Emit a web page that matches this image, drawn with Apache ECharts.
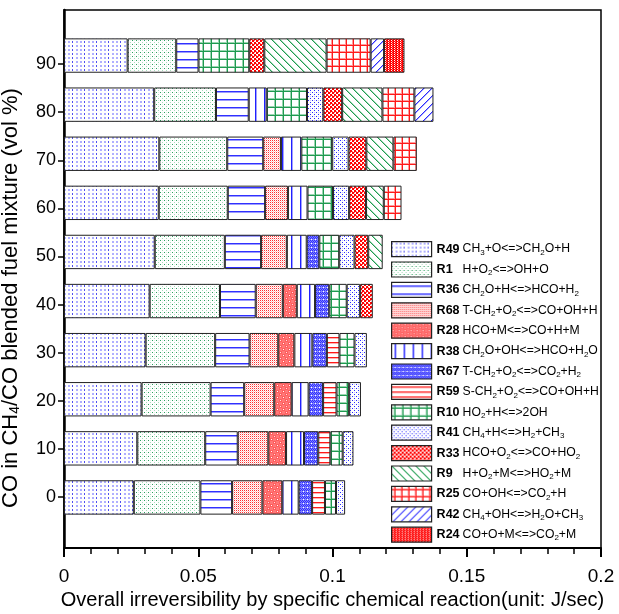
<!DOCTYPE html>
<html>
<head>
<meta charset="utf-8">
<script src="https://cdn.jsdelivr.net/npm/echarts@6/dist/echarts.min.js"></script>
<style>
  html, body { margin: 0; padding: 0; background: #fff; }
  #chart { width: 619px; height: 614px; }
</style>
</head>
<body>
<div id="chart"></div>
<script>
// CO share in the CH4/CO blend (vol %), bottom to top
const categories = ['0', '10', '20', '30', '40', '50', '60', '70', '80', '90']

// irreversibility of each reaction (J/sec), one value per category
const R49 = [0.0260, 0.0273, 0.0289, 0.0304, 0.0319, 0.0338, 0.0353, 0.0355, 0.0336, 0.0237]
const R1 = [0.0248, 0.0253, 0.0257, 0.0259, 0.0262, 0.0261, 0.0257, 0.0253, 0.0230, 0.0181]
const R36 = [0.0118, 0.0121, 0.0125, 0.0128, 0.0133, 0.0135, 0.0139, 0.0134, 0.0122, 0.0083]
const R68 = [0.0113, 0.0114, 0.0112, 0.0107, 0.0101, 0.0096, 0.0085, 0.0066, null, null]
const R28 = [0.0074, 0.0066, 0.0065, 0.0060, 0.0052, null, null, null, null, null]
const R38 = [0.0061, 0.0067, 0.0063, 0.0067, 0.0068, 0.0074, 0.0073, 0.0076, 0.0067, null]
const R67 = [0.0050, 0.0053, 0.0054, 0.0054, 0.0053, 0.0047, null, null, null, null]
const R59 = [0.0048, 0.0045, 0.0050, 0.0047, null, null, null, null, null, null]
const R10 = [0.0041, 0.0046, 0.0047, 0.0056, 0.0065, 0.0074, 0.0095, 0.0115, 0.0150, 0.0189]
const R41 = [0.0034, 0.0040, 0.0044, 0.0046, 0.0050, 0.0057, 0.0060, 0.0061, 0.0061, null]
const R33 = [null, null, null, null, 0.0047, 0.0051, 0.0063, 0.0066, 0.0070, 0.0056]
const R9 = [null, null, null, null, null, 0.0054, 0.0066, 0.0101, 0.0150, 0.0232]
const R25 = [null, null, null, null, null, null, 0.0066, 0.0087, 0.0119, 0.0164]
const R42 = [null, null, null, null, null, null, null, null, 0.0071, 0.0050]
const R24 = [null, null, null, null, null, null, null, null, null, 0.0076]

const xTicks = [0, 0.05, 0.1, 0.15, 0.2]

// legend labels (formula part)
const formulas = {
  R49: 'CH{s|3}+O<=>CH{s|2}O+H',
  R1: 'H+O{s|2}<=>OH+O',
  R36: 'CH{s|2}O+H<=>HCO+H{s|2}',
  R68: 'T-CH{s|2}+O{s|2}<=>CO+OH+H',
  R28: 'HCO+M<=>CO+H+M',
  R38: 'CH{s|2}O+OH<=>HCO+H{s|2}O',
  R67: 'T-CH{s|2}+O{s|2}<=>CO{s|2}+H{s|2}',
  R59: 'S-CH{s|2}+O{s|2}<=>CO+OH+H',
  R10: 'HO{s|2}+H<=>2OH',
  R41: 'CH{s|4}+H<=>H{s|2}+CH{s|3}',
  R33: 'HCO+O{s|2}<=>CO+HO{s|2}',
  R9: 'H+O{s|2}+M<=>HO{s|2}+M',
  R25: 'CO+OH<=>CO{s|2}+H',
  R42: 'CH{s|4}+OH<=>H{s|2}O+CH{s|3}',
  R24: 'CO+O+M<=>CO{s|2}+M',
}

// small canvas tiles used as hatch fills
function tile(w, h, bg, dots) {
  const c = document.createElement('canvas')
  c.width = w
  c.height = h
  const g = c.getContext('2d')
  g.fillStyle = bg
  g.fillRect(0, 0, w, h)
  dots.forEach(d => {
    g.fillStyle = d[2]
    g.fillRect(d[0], d[1], d[3] || 1, d[4] || 1)
  })
  return { image: c, repeat: 'repeat' }
}
function gridTile(step, dark, light) {
  return tile(step, step, '#fff', [[0, 2, light, step, 1], [2, 0, light, 1, step], [0, 3, dark, step, 1], [3, 0, dark, 1, step]])
}
function diag(step, dark, light, up) {
  const d = []
  for (let i = 0; i < step; i++) {
    const x = up ? step - 1 - i : i
    d.push([x, i, dark])
    d.push([(x + 1) % step, i, light])
  }
  return tile(step, step, '#fff', d)
}

const fills = {
  R49: tile(12, 8, '#fff', [[0, 1, '#5050f0', 1, 2], [4, 1, '#b0b0ff', 2, 2], [8, 1, '#b0b0ff', 2, 2], [0, 5, '#5050f0', 1, 2], [4, 5, '#b0b0ff', 2, 2], [8, 5, '#b0b0ff', 2, 2]]),
  R1: tile(4, 4, '#fff', [[0, 0, '#2ea060'], [2, 2, '#a8dcbc'], [2, 0, '#e2f4e8']]),
  R36: tile(1, 8, '#fff', [[0, 3, '#3030ff'], [0, 4, '#9c9cff']]),
  R68: tile(2, 2, '#fff', [[0, 0, '#ff3030'], [1, 1, '#ffc8c8']]),
  R28: tile(6, 6, '#ff7878', [[0, 0, '#ff5c5c', 3, 3], [3, 3, '#ff5c5c', 3, 3], [1, 1, '#fff'], [4, 4, '#ffe0e0']]),
  R38: tile(9, 1, '#fff', [[3, 0, '#2020ff'], [4, 0, '#a0a0ff']]),
  R67: tile(4, 4, '#8080ff', [[0, 0, '#3030ff'], [2, 0, '#3030ff'], [1, 1, '#3030ff'], [3, 1, '#3030ff'], [0, 2, '#3030ff'], [2, 2, '#3030ff'], [3, 3, '#fff']]),
  R59: tile(1, 5, '#fff', [[0, 2, '#ff1a1a'], [0, 3, '#ffb0b0']]),
  R10: gridTile(8, '#1f9a50', '#9ad6b0'),
  R41: tile(4, 4, '#fff', [[0, 0, '#2a2aff'], [2, 2, '#2a2aff'], [2, 0, '#c8c8ff']]),
  R33: tile(4, 4, '#fff', [[0, 0, '#ff0000', 2, 2], [2, 2, '#ff0000', 2, 2], [2, 0, '#ff6060'], [0, 3, '#ff8080']]),
  R9: diag(8, '#1f9a50', '#a0dab6', false),
  R25: gridTile(7, '#ff1a1a', '#ff9c9c'),
  R42: diag(8, '#2a2aff', '#a8a8ff', true),
  R24: tile(3, 2, '#ff0000', [[1, 0, '#fff'], [2, 1, '#ff6a6a']]),
}

const names = ['R49', 'R1', 'R36', 'R68', 'R28', 'R38', 'R67', 'R59', 'R10', 'R41', 'R33', 'R9', 'R25', 'R42', 'R24']
const values = { R49, R1, R36, R68, R28, R38, R67, R59, R10, R41, R33, R9, R25, R42, R24 }

const font = 'Liberation Sans, Arial, sans-serif'

const option = {
  animation: false,
  textStyle: { fontFamily: font },
  grid: [
    // outer frame with the value axis
    { left: 64, right: 18, top: 10, bottom: 66, show: true, borderColor: '#000', borderWidth: 1.5, outerBoundsMode: 'none' },
    // bar area, one slot per category
    { left: 64, right: 18, top: 31, height: 491, outerBoundsMode: 'none' },
    // category labels sit on a slightly tighter pitch than the bars
    { left: 64, right: 18, top: 40, height: 481, outerBoundsMode: 'none' },
  ],
  xAxis: [
    {
      gridIndex: 0,
      type: 'value',
      min: 0,
      max: 0.2,
      interval: 0.05,
      axisLine: { show: true, lineStyle: { color: '#000', width: 2 } },
      axisTick: { show: true, length: 9, lineStyle: { color: '#000', width: 2 } },
      minorTick: { show: true, splitNumber: 5, length: 6, lineStyle: { color: '#000', width: 1.5 } },
      splitLine: { show: false },
      axisLabel: {
        color: '#000',
        fontSize: 19,
        margin: 19,
        formatter: v => (xTicks.includes(v) ? String(v) : ''),
      },
      name: 'Overall irreversibility by specific chemical reaction(unit: J/sec)',
      nameLocation: 'middle',
      nameGap: 40,
      nameTextStyle: { color: '#000', fontSize: 20 },
    },
    { gridIndex: 1, type: 'value', min: 0, max: 0.2, show: false },
    { gridIndex: 2, type: 'value', min: 0, max: 0.2, show: false },
  ],
  yAxis: [
    {
      gridIndex: 0,
      type: 'value',
      min: 0,
      max: 1,
      axisLine: { show: true, lineStyle: { color: '#000', width: 2.5 } },
      axisTick: { show: false },
      axisLabel: { show: false },
      splitLine: { show: false },
      name: 'CO in CH{s|4}/CO blended fuel mixture (vol %)',
      nameLocation: 'middle',
      nameGap: 42,
      nameRotate: 90,
      nameTextStyle: {
        color: '#000',
        fontSize: 22,
        padding: [0, 38, 0, 0],
        rich: { s: { fontSize: 14, verticalAlign: 'bottom', padding: [9, 0, 0, 0] } },
      },
    },
    { gridIndex: 1, type: 'category', data: categories, show: false },
    {
      gridIndex: 2,
      type: 'category',
      data: categories,
      axisLine: { show: false },
      axisTick: { show: true, alignWithLabel: true, length: 6, lineStyle: { color: '#000', width: 1.5 } },
      axisLabel: { color: '#000', fontSize: 18, margin: 8 },
      splitLine: { show: false },
    },
  ],
  legend: {
    orient: 'vertical',
    left: 386,
    top: 236,
    itemWidth: 40,
    itemHeight: 15,
    itemGap: 4.2,
    icon: 'rect',
    itemStyle: { borderColor: '#222', borderWidth: 1.2 },
    data: names,
    formatter: n => '{b|' + n + '}' + formulas[n],
    textStyle: {
      color: '#000',
      fontSize: 12.2,
      lineHeight: 15,
      rich: {
        b: { fontWeight: 'bold', fontSize: 12.5, width: 26, lineHeight: 15 },
        s: { fontSize: 8, lineHeight: 15, verticalAlign: 'bottom', padding: [5, 0, 0, 0] },
      },
    },
  },
  series: names.map(n => ({
    name: n,
    type: 'bar',
    stack: 'total',
    xAxisIndex: 1,
    yAxisIndex: 1,
    barWidth: '70%',
    data: values[n],
    itemStyle: { color: fills[n], borderColor: '#222', borderWidth: 1 },
    emphasis: { disabled: true },
  })),
}

const myChart = echarts.init(document.getElementById('chart'))
myChart.setOption(option)
</script>
</body>
</html>
